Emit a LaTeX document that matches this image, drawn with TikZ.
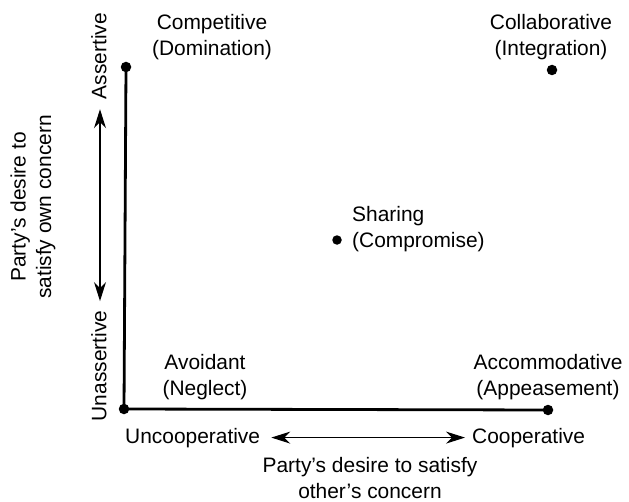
\documentclass[tikz,border=0pt]{standalone}
\usepackage{fontspec}
\setmainfont{Liberation Sans}
\usetikzlibrary{arrows.meta,calc}

\tikzset{
  lbl/.style={inner sep=0pt, align=center, font=\fontsize{21}{25.5}\selectfont},
  dot/.style={circle, fill=black, inner sep=0pt, minimum size=#1},
  dot/.default=10.5bp,
  axisline/.style={line width=2.8bp, line cap=round},
  scale arrow/.style={line width=1.2bp,
    arrows={Stealth[length=19bp,width=12bp,inset=6bp]-Stealth[length=19bp,width=12bp,inset=6bp]}}
}

\begin{document}
\begin{tikzpicture}[x=1bp,y=-1bp]
  \useasboundingbox (0,0) rectangle (629,502);
  \fill[white] (0,0) rectangle (629,502);

  % corner points of the grid and the middle point
  \node[dot] (avoid) at (124,409) {};
  \node[dot] (comp)  at (126,67)  {};
  \node[dot] (acc)   at (548,410) {};
  \node[dot] (coll)  at (552,70)  {};
  \node[dot=9.5bp] (share) at (337,240) {};

  % the two axes
  \draw[axisline] (comp.center) -- (avoid.center) -- (acc.center);

  % style labels
  \node[lbl] (compL)  at (212,37)  {Competitive\\(Domination)};
  \node[lbl] (collL)  at (551,37)  {Collaborative\\(Integration)};
  \node[lbl, align=left, anchor=west] (shareL) at (352,229) {Sharing\\(Compromise)};
  \node[lbl] (avoidL) at (205,377) {Avoidant\\(Neglect)};
  \node[lbl] (accL)   at (548,377) {Accommodative\\(Appeasement)};

  % vertical scale
  \node[lbl, rotate=90] (assert) at (99,56)  {Assertive};
  \node[lbl, rotate=90] (unas)   at (99,366) {Unassertive};
  \draw[scale arrow] ($(unas.east)+(1,-9.5)$) -- ($(assert.west)+(1,10)$);
  \node[lbl, rotate=90] (own) at (33,207) {Party’s desire to\\satisfy own concern};

  % horizontal scale
  \node[lbl, anchor=base west] (uncoop) at (125,443) {Uncooperative};
  \node[lbl, anchor=base west] (coop)   at (472,443) {Cooperative};
  \draw[scale arrow] ($(uncoop.east)+(11,0)$) -- ($(coop.west)+(-7,0)$);
  \node[lbl] (other) at (370,478) {Party’s desire to satisfy\\other’s concern};
\end{tikzpicture}
\end{document}
